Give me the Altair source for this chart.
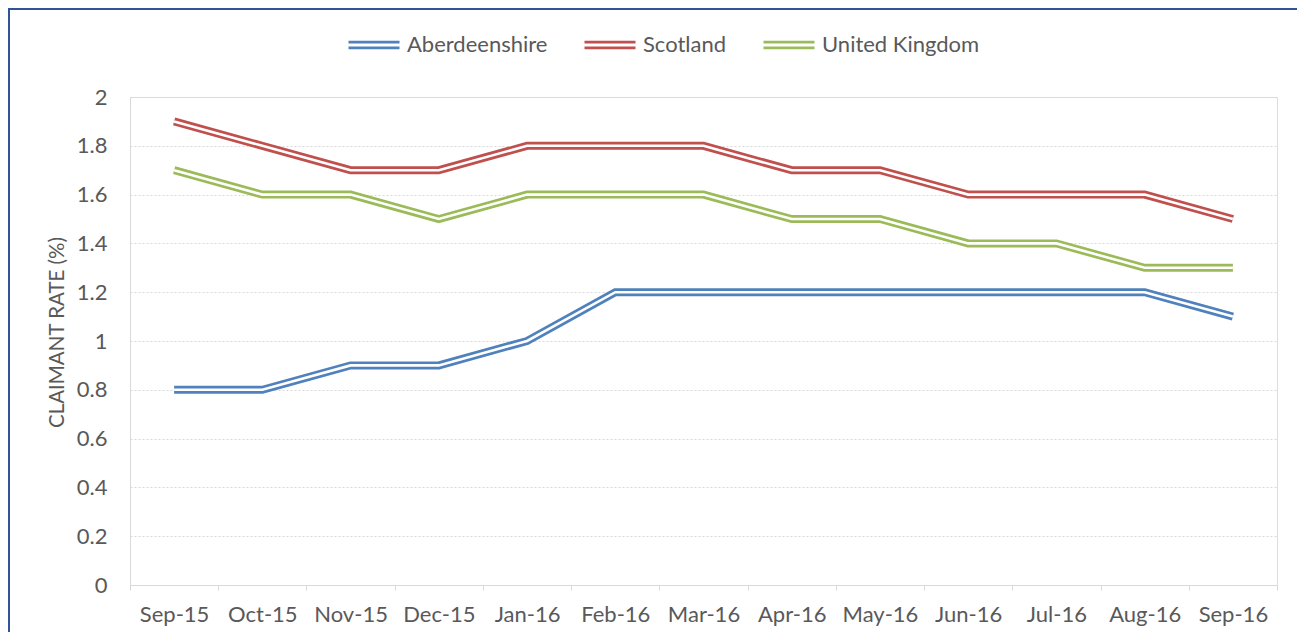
import altair as alt
import pandas as pd

months = ["Sep-15", "Oct-15", "Nov-15", "Dec-15", "Jan-16", "Feb-16", "Mar-16",
          "Apr-16", "May-16", "Jun-16", "Jul-16", "Aug-16", "Sep-16"]
series_names = ["Aberdeenshire", "Scotland", "United Kingdom"]
aberdeenshire = [0.8, 0.8, 0.9, 0.9, 1.0, 1.2, 1.2, 1.2, 1.2, 1.2, 1.2, 1.2, 1.1]
scotland = [1.9, 1.8, 1.7, 1.7, 1.8, 1.8, 1.8, 1.7, 1.7, 1.6, 1.6, 1.6, 1.5]
united_kingdom = [1.7, 1.6, 1.6, 1.5, 1.6, 1.6, 1.6, 1.5, 1.5, 1.4, 1.4, 1.3, 1.3]
colors = ["#4F81BD", "#C0504D", "#9BBB59"]
y_ticks = [0, 0.2, 0.4, 0.6, 0.8, 1.0, 1.2, 1.4, 1.6, 1.8, 2.0]

rows = []
for name, vals in zip(series_names, [aberdeenshire, scotland, united_kingdom]):
    for i, (m, v) in enumerate(zip(months, vals)):
        rows.append({"month": m, "series": name, "rate": v, "order": i})
df = pd.DataFrame(rows)

FONT = "Lato"
LABEL_COLOR = "#595959"
W, H = 1147, 488
PAD = {"left": 122, "top": 89, "right": 20, "bottom": 47}

x_enc = alt.X("month:N", sort=months, bandPosition=0.5,
              scale=alt.Scale(type="band", paddingInner=0, paddingOuter=0),
              axis=alt.Axis(title=None, tickBand="extent", tickSize=5, tickColor="#D9D9D9",
                            domainColor="#D9D9D9", labelAngle=0, labelPadding=14,
                            labelFontSize=22, labelColor=LABEL_COLOR, labelFont=FONT,
                            grid=False))
y_enc = alt.Y("rate:Q", scale=alt.Scale(domain=[0, 2], nice=False),
              axis=alt.Axis(title="CLAIMANT RATE (%)", values=y_ticks, format=".1~f",
                            ticks=False, labelPadding=23, labelFontSize=22,
                            labelColor=LABEL_COLOR, labelFont=FONT,
                            titleFontSize=20.5, titleFont=FONT, titleColor=LABEL_COLOR,
                            titleFontWeight="normal", titlePadding=9, titleY=235,
                            domainColor="#D9D9D9", gridColor="#D9D9D9",
                            gridDash=[2, 2], gridWidth=1))

base = alt.Chart(df)

outer = base.mark_line(strokeWidth=8, strokeJoin="miter").encode(
    x=x_enc, y=y_enc,
    order="order:Q",
    color=alt.Color("series:N", sort=series_names,
                    scale=alt.Scale(domain=series_names, range=colors),
                    legend=alt.Legend(title=None, orient="none", direction="horizontal",
                                      legendX=217, legendY=-79,
                                      symbolType="M-1,-0.11H1M-1,0.11H1",
                                      symbolSize=2601, symbolStrokeWidth=2.7,
                                      labelFontSize=22, labelFont=FONT,
                                      labelColor=LABEL_COLOR, labelOffset=6,
                                      columnPadding=31, padding=0)),
)

inner = base.mark_line(strokeWidth=2.6, color="white", strokeJoin="miter").encode(
    x=x_enc, y=y_enc, order="order:Q", detail="series:N",
)

border_left = base.mark_rule(stroke="#2F5597", strokeWidth=2).encode(
    x=alt.value(-121), y=alt.value(-89), y2=alt.value(H + PAD["bottom"]),
)
border_top = base.mark_rule(stroke="#2F5597", strokeWidth=2).encode(
    x=alt.value(-122), x2=alt.value(W + PAD["right"]), y=alt.value(-88),
)

chart = alt.layer(border_left, border_top, outer, inner).properties(
    width=W, height=H,
    autosize=alt.AutoSizeParams(type="none"),
    padding=PAD,
).configure_view(stroke=None).configure(background="white")

chart.save("out.html", embed_options={"renderer": "svg", "actions": False})
